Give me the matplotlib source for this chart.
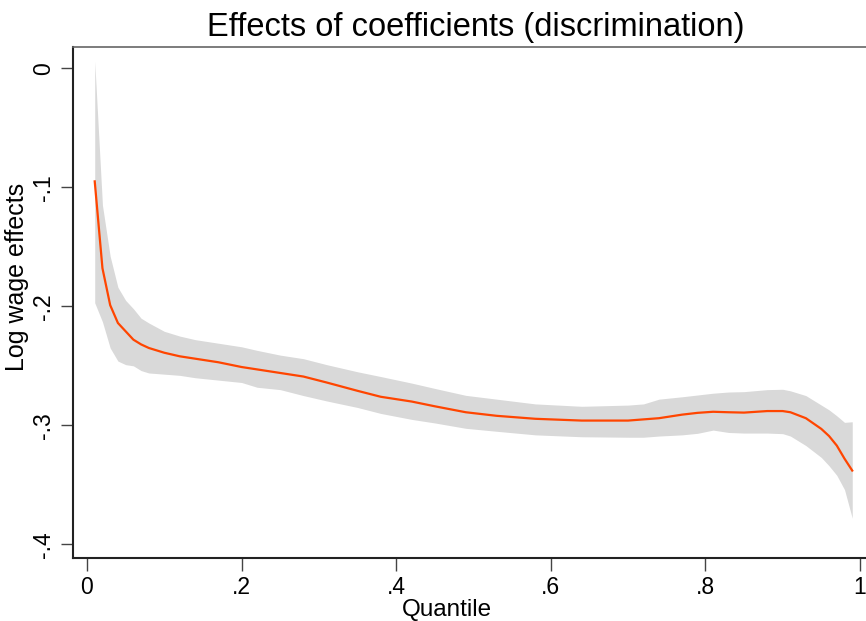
import numpy as np
import matplotlib
matplotlib.use("Agg")
import matplotlib.pyplot as plt

# Quantiles and effects
quantile = [0.01, 0.02, 0.03, 0.04, 0.05, 0.06, 0.07, 0.08, 0.10, 0.12,
            0.14, 0.17, 0.20, 0.22, 0.25, 0.28, 0.31, 0.35, 0.38, 0.42,
            0.45, 0.49, 0.53, 0.58, 0.64, 0.70, 0.72, 0.74, 0.77, 0.79,
            0.81, 0.83, 0.85, 0.88, 0.90, 0.91, 0.93, 0.95, 0.96, 0.97,
            0.98, 0.99]
effect = [-0.095, -0.168, -0.199, -0.214, -0.221, -0.228, -0.232, -0.235, -0.239, -0.242,
          -0.244, -0.247, -0.251, -0.253, -0.256, -0.259, -0.264, -0.271, -0.276, -0.280,
          -0.284, -0.289, -0.292, -0.2945, -0.296, -0.296, -0.295, -0.294, -0.291, -0.2895,
          -0.2886, -0.289, -0.2893, -0.288, -0.288, -0.289, -0.294, -0.303, -0.309, -0.317,
          -0.328, -0.338]
upper = [0.006, -0.115, -0.158, -0.184, -0.195, -0.202, -0.210, -0.214, -0.221, -0.225,
         -0.228, -0.231, -0.234, -0.237, -0.241, -0.244, -0.249, -0.255, -0.259, -0.2645,
         -0.269, -0.2748, -0.278, -0.282, -0.284, -0.283, -0.282, -0.278, -0.276, -0.2745,
         -0.273, -0.272, -0.2717, -0.270, -0.2697, -0.271, -0.275, -0.283, -0.287, -0.292,
         -0.2975, -0.297]
lower = [-0.197, -0.213, -0.235, -0.246, -0.249, -0.250, -0.254, -0.256, -0.257, -0.258,
         -0.260, -0.262, -0.264, -0.268, -0.270, -0.275, -0.2795, -0.285, -0.290, -0.295,
         -0.298, -0.3025, -0.305, -0.308, -0.3096, -0.310, -0.310, -0.309, -0.308, -0.3067,
         -0.304, -0.306, -0.3065, -0.3065, -0.307, -0.309, -0.317, -0.327, -0.334, -0.342,
         -0.354, -0.378]

xticks = [0, 0.2, 0.4, 0.6, 0.8, 1]
xlabels = ["0", ".2", ".4", ".6", ".8", "1"]
yticks = [0, -0.1, -0.2, -0.3, -0.4]
ylabels = ["0", "-.1", "-.2", "-.3", "-.4"]

plt.rcParams["font.family"] = ["Liberation Sans", "DejaVu Sans"]

fig = plt.figure(figsize=(8.66, 6.21), dpi=100)
ax = fig.add_axes([0.0843, 0.1014, 0.9157, 0.8229])

ax.fill_between(quantile, lower, upper, color="#d9d9d9", linewidth=0)
ax.plot(quantile, effect, color="#ff4500", linewidth=1.6)

ax.set_xlim(-0.0181, 1.0078)
ax.set_ylim(-0.4115, 0.0179)

ax.set_xticks(xticks)
ax.set_xticklabels(xlabels)
ax.set_yticks(yticks)
ax.set_yticklabels(ylabels, rotation=90, va="center")
ax.tick_params(axis="both", labelsize=16.5, length=9, width=1, color="#444444")
ax.tick_params(axis="x", pad=4)
ax.tick_params(axis="y", pad=4)

for s in ["left", "bottom"]:
    ax.spines[s].set_color("#222222")
    ax.spines[s].set_linewidth(1.5)
ax.spines["top"].set_color("#666666")
ax.spines["top"].set_linewidth(1.2)
ax.spines["right"].set_visible(False)

ax.set_xlabel("Quantile", fontsize=17.5, va="top")
ax.xaxis.set_label_coords(0.4716, -0.080)
ax.set_ylabel("Log wage effects", fontsize=18)
ax.yaxis.set_label_coords(-0.055, 0.55)
ax.set_title("Effects of coefficients (discrimination)", fontsize=23.5, pad=8, x=0.508)

fig.savefig("out.png", dpi=100)
